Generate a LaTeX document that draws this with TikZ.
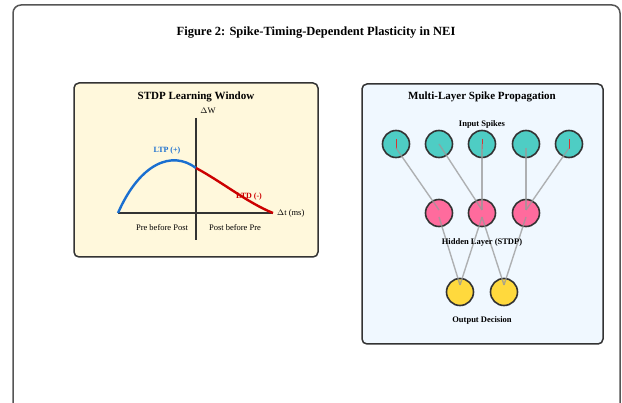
\documentclass[tikz,border=0pt]{standalone}
\usepackage{fontspec}
\setmainfont{Liberation Serif}
\definecolor{frame}{HTML}{555555}
\definecolor{dark}{HTML}{333333}
\definecolor{cream}{HTML}{FFF8DC}
\definecolor{alice}{HTML}{F0F8FF}
\definecolor{teal}{HTML}{4ECDC4}
\definecolor{pink}{HTML}{FF6B9D}
\definecolor{gold}{HTML}{FFD93D}
\definecolor{ltpblue}{HTML}{1A6FD0}
\definecolor{ltdred}{HTML}{CC0000}
\definecolor{wire}{HTML}{999999}
\tikzset{
  panel/.style={draw=dark, line width=1.5pt, rounded corners=5pt},
  neuron/.style={circle, draw=dark, line width=1.6pt, minimum size=27pt, inner sep=0pt},
  wirec/.style={draw=wire, line width=1.4pt, opacity=0.75},
  lbl/.style={inner sep=0pt, font=\fontsize{8.5}{10}\selectfont},
  blbl/.style={inner sep=0pt, font=\fontsize{8.5}{10}\selectfont\bfseries},
  axis/.style={draw=dark, line width=1.3pt}
}
\begin{document}
\begin{tikzpicture}[x=1pt,y=-1pt]
\useasboundingbox (0,0) rectangle (622,403);
\clip (0,0) rectangle (622,403);
\fill[white] (0,0) rectangle (622,403);
% outer frame
\draw[draw=frame, line width=1.5pt, rounded corners=8pt] (13,5) rectangle (620,430);
\node[inner sep=0pt, font=\fontsize{12.5}{14}\selectfont\bfseries] (title) at (316,33) {Figure 2: Spike-Timing-Dependent Plasticity in NEI};

% left panel
\draw[panel, fill=cream] (74,83) rectangle (318,257);
\node[inner sep=0pt, font=\fontsize{11}{13}\selectfont\bfseries] (ltitle) at (196,97) {STDP Learning Window};
\coordinate (vtop) at (196,118);
\coordinate (vbot) at (196,240);
\coordinate (hleft) at (118,213);
\coordinate (hright) at (273,213);
\draw[axis] (vtop) -- (vbot);
\draw[axis] (hleft) -- (hright);
\node[lbl] (dw) at (208,111) {$\Delta$W};
\node[lbl, anchor=west] (dt) at (277,213) {$\Delta$t (ms)};
\coordinate (cross) at (196,168);
\draw[ltpblue, line width=2.4pt] (hleft) .. controls (140,163) and (172,150) .. (cross);
\draw[ltdred, line width=2.4pt] (cross) .. controls (222,182) and (248,203) .. (hright);
\node[blbl, font=\fontsize{8}{10}\selectfont\bfseries, text=ltpblue] (ltp) at (167,151) {LTP (+)};
\node[blbl, font=\fontsize{8}{10}\selectfont\bfseries, text=ltdred] (ltd) at (249,197) {LTD (-)};
\node[lbl] (pbp) at (162,228) {Pre before Post};
\node[lbl] (pbpr) at (235,228) {Post before Pre};

% right panel
\draw[panel, fill=alice] (362,84) rectangle (603,344);
\node[inner sep=0pt, font=\fontsize{11}{13}\selectfont\bfseries] (rtitle) at (482,97) {Multi-Layer Spike Propagation};
\node[blbl] (inlbl) at (482,124) {Input Spikes};
\node[neuron, fill=teal] (i1) at (396,144) {};
\node[neuron, fill=teal] (i2) at (439,144) {};
\node[neuron, fill=teal] (i3) at (482,144) {};
\node[neuron, fill=teal] (i4) at (526,144) {};
\node[neuron, fill=teal] (i5) at (569,144) {};
\node[neuron, fill=pink] (h1) at (439,213) {};
\node[neuron, fill=pink] (h2) at (482,213) {};
\node[neuron, fill=pink] (h3) at (526,213) {};
\node[neuron, fill=gold] (o1) at (460,292) {};
\node[neuron, fill=gold] (o2) at (504,292) {};
\foreach \n in {i1,i3,i5}
  \draw[ltdred!80, line width=0.8pt] ([yshift=5pt]\n.center) -- ([yshift=-5pt]\n.center);
\draw[wirec] ([yshift=-4pt]i1.center) -- ([yshift=3pt]h1.center);
\draw[wirec] (i2.center) -- ([yshift=3pt]h2.center);
\draw[wirec] (i3.center) -- ([yshift=3pt]h2.center);
\draw[wirec] ([yshift=-4pt]i4.center) -- ([yshift=3pt]h3.center);
\draw[wirec] ([yshift=-4pt]i5.center) -- ([yshift=3pt]h3.center);
\draw[wirec] ([yshift=-4pt]h1.center) -- ([yshift=7pt]o1.center);
\draw[wirec] ([yshift=-4pt]h2.center) -- ([yshift=7pt]o1.center);
\draw[wirec] ([yshift=-4pt]h2.center) -- ([yshift=7pt]o2.center);
\draw[wirec] ([yshift=-4pt]h3.center) -- ([yshift=7pt]o2.center);
\node[blbl] (hlbl) at (482,242) {Hidden Layer (STDP)};
\node[blbl] (olbl) at (482,320) {Output Decision};
\end{tikzpicture}
\end{document}
